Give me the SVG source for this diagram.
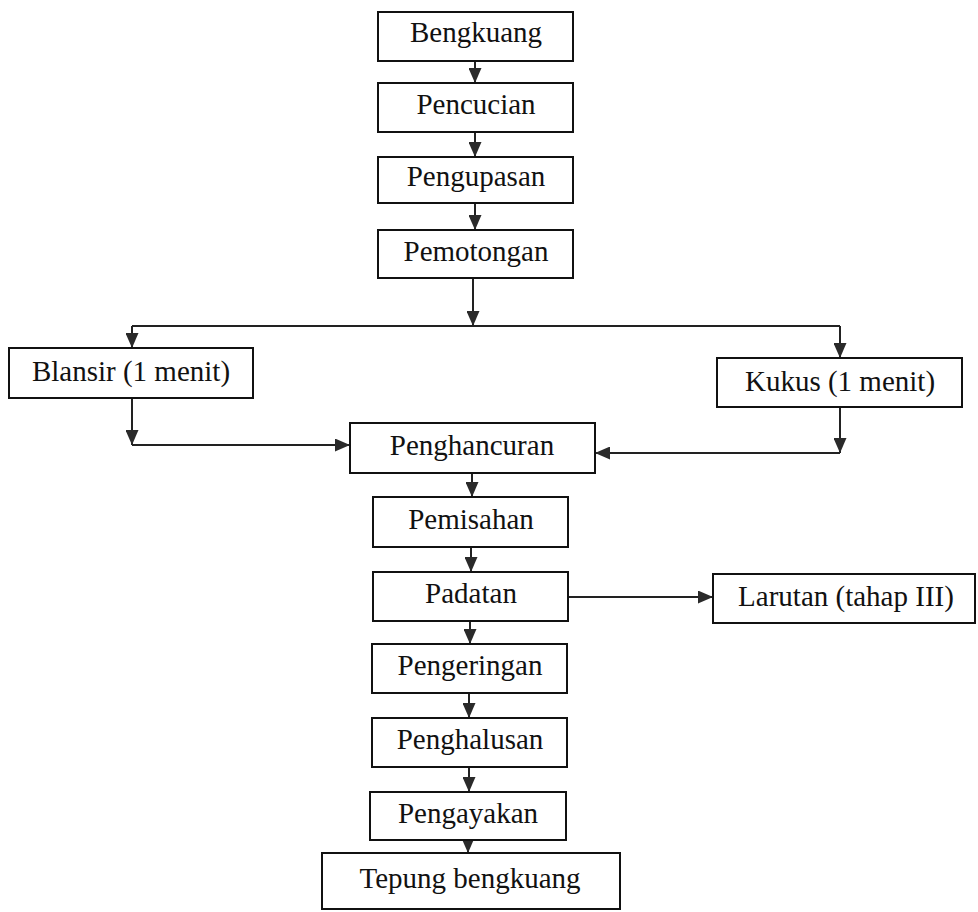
<svg xmlns="http://www.w3.org/2000/svg" width="978" height="912" viewBox="0 0 978 912">
<defs>
<marker id="ah" viewBox="0 0 15 13" refX="15" refY="6.5" markerWidth="15" markerHeight="13" markerUnits="userSpaceOnUse" orient="auto">
<path d="M0,0 L15,6.5 L0,13 z" fill="#2a2a2a"/>
</marker>
<style>
rect{fill:#fff;stroke:#111;stroke-width:2}
text{font-family:"Liberation Serif","Times New Roman",serif;font-size:29px;fill:#111;text-anchor:middle}
#connectors line{stroke:#222;stroke-width:2;fill:none}
.a{marker-end:url(#ah)}
</style>
</defs>
<rect x="0" y="0" width="978" height="912" style="fill:#fff;stroke:none"/>
<g id="connectors">
<line class="a" x1="475" y1="61" x2="475" y2="83"/>
<line class="a" x1="475" y1="132" x2="475" y2="157"/>
<line class="a" x1="475" y1="203" x2="475" y2="230"/>
<line class="a" x1="473" y1="278" x2="473" y2="326"/>
<line x1="132" y1="326" x2="840" y2="326"/>
<line class="a" x1="132" y1="326" x2="132" y2="348"/>
<line class="a" x1="840" y1="326" x2="840" y2="358"/>
<line class="a" x1="132" y1="398" x2="132" y2="445"/>
<line class="a" x1="132" y1="445" x2="350" y2="445"/>
<line class="a" x1="840" y1="407" x2="840" y2="453"/>
<line class="a" x1="840" y1="453" x2="595" y2="453"/>
<line class="a" x1="472" y1="473" x2="472" y2="497"/>
<line class="a" x1="471" y1="547" x2="471" y2="572"/>
<line class="a" x1="568" y1="597" x2="713" y2="597"/>
<line class="a" x1="470" y1="621" x2="470" y2="644"/>
<line class="a" x1="469" y1="693" x2="469" y2="718"/>
<line class="a" x1="469" y1="767" x2="469" y2="792"/>
<line class="a" x1="468" y1="840" x2="468" y2="853"/>
</g>
<g id="bengkuang"><rect x="378" y="12" width="195" height="49"/><text x="476" y="42">Bengkuang</text></g>
<g id="pencucian"><rect x="378" y="83" width="195" height="49"/><text x="476" y="114">Pencucian</text></g>
<g id="pengupasan"><rect x="378" y="157" width="195" height="46"/><text x="476" y="186">Pengupasan</text></g>
<g id="pemotongan"><rect x="378" y="230" width="195" height="48"/><text x="476" y="261">Pemotongan</text></g>
<g id="blansir"><rect x="9" y="348" width="244" height="50"/><text x="131" y="381">Blansir (1 menit)</text></g>
<g id="kukus"><rect x="717" y="358" width="245" height="49"/><text x="840" y="391">Kukus (1 menit)</text></g>
<g id="penghancuran"><rect x="350" y="423" width="245" height="50"/><text x="472" y="455">Penghancuran</text></g>
<g id="pemisahan"><rect x="373" y="497" width="195" height="50"/><text x="471" y="529">Pemisahan</text></g>
<g id="padatan"><rect x="373" y="572" width="195" height="49"/><text x="471" y="603">Padatan</text></g>
<g id="larutan"><rect x="713" y="574" width="262" height="49"/><text x="846" y="606">Larutan (tahap III)</text></g>
<g id="pengeringan"><rect x="372" y="644" width="195" height="49"/><text x="470" y="675">Pengeringan</text></g>
<g id="penghalusan"><rect x="372" y="718" width="195" height="49"/><text x="470" y="749">Penghalusan</text></g>
<g id="pengayakan"><rect x="370" y="792" width="196" height="48"/><text x="468" y="823">Pengayakan</text></g>
<g id="tepung"><rect x="322" y="853" width="298" height="56"/><text x="470" y="888">Tepung bengkuang</text></g>
</svg>
